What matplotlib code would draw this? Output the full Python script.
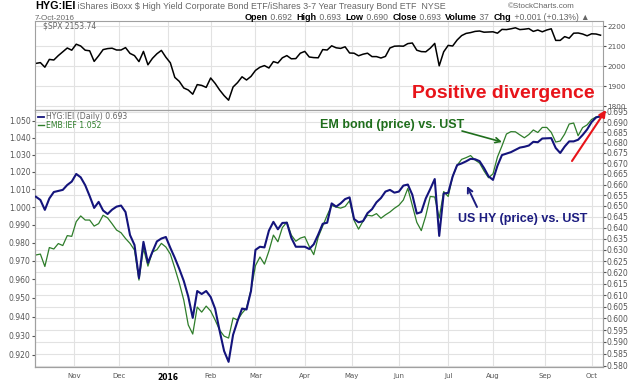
import numpy as np
import pandas as pd
import matplotlib
matplotlib.use("Agg")
import matplotlib.pyplot as plt
from matplotlib.lines import Line2D
from matplotlib.ticker import FixedLocator, FormatStrFormatter, NullLocator, NullFormatter
from matplotlib.transforms import blended_transform_factory

# trading days of the chart (NYSE holidays removed), one value every 2nd session
holidays = ["2015-11-26", "2015-12-25", "2016-01-01", "2016-01-18", "2016-02-15",
            "2016-03-25", "2016-05-30", "2016-07-04", "2016-09-05"]
days = pd.bdate_range("2015-10-08", "2016-10-07")
days = days[~days.isin(pd.to_datetime(holidays))]

# HYG:IEI (right scale)
hyg_iei = [
    0.6543, 0.6528, 0.6482, 0.6535, 0.6565, 0.6570, 0.6575, 0.6598, 0.6614, 0.6650,
    0.6634, 0.6597, 0.6546, 0.6491, 0.6519, 0.6479, 0.6463, 0.6483, 0.6497, 0.6502,
    0.6472, 0.6367, 0.6322, 0.6175, 0.6336, 0.6242, 0.6291, 0.6338, 0.6351, 0.6358,
    0.6309, 0.6264, 0.6215, 0.6162, 0.6094, 0.6002, 0.6118, 0.6105, 0.6118, 0.6092,
    0.6041, 0.5947, 0.5862, 0.5817, 0.5930, 0.5989, 0.6042, 0.6038, 0.6118, 0.6300,
    0.6314, 0.6311, 0.6387, 0.6427, 0.6393, 0.6422, 0.6423, 0.6354, 0.6314, 0.6314,
    0.6314, 0.6304, 0.6325, 0.6369, 0.6418, 0.6423, 0.6512, 0.6497, 0.6512, 0.6532,
    0.6540, 0.6440, 0.6425, 0.6430, 0.6467, 0.6485, 0.6517, 0.6537, 0.6567, 0.6575,
    0.6562, 0.6567, 0.6595, 0.6600, 0.6552, 0.6465, 0.6472, 0.6535, 0.6579, 0.6626,
    0.6363, 0.6558, 0.6561, 0.6638, 0.6692, 0.6700, 0.6710, 0.6722, 0.6720, 0.6711,
    0.6678, 0.6639, 0.6622, 0.6689, 0.6740, 0.6747, 0.6754, 0.6765, 0.6776, 0.6780,
    0.6786, 0.6804, 0.6802, 0.6820, 0.6821, 0.6822, 0.6774, 0.6750, 0.6781, 0.6806,
    0.6806, 0.6814, 0.6837, 0.6864, 0.6900, 0.6923, 0.6930]

# EMB:IEF (left scale)
emb_ief = [
    0.9733, 0.9738, 0.9670, 0.9774, 0.9766, 0.9796, 0.9785, 0.9840, 0.9836, 0.9918,
    0.9950, 0.9927, 0.9927, 0.9893, 0.9907, 0.9954, 0.9939, 0.9906, 0.9871, 0.9856,
    0.9824, 0.9797, 0.9760, 0.9596, 0.9770, 0.9672, 0.9749, 0.9762, 0.9797, 0.9777,
    0.9738, 0.9661, 0.9580, 0.9488, 0.9356, 0.9308, 0.9451, 0.9424, 0.9456, 0.9430,
    0.9382, 0.9329, 0.9297, 0.9287, 0.9393, 0.9382, 0.9418, 0.9446, 0.9542, 0.9675,
    0.9722, 0.9683, 0.9755, 0.9843, 0.9806, 0.9885, 0.9915, 0.9843, 0.9809, 0.9826,
    0.9834, 0.9780, 0.9735, 0.9832, 0.9893, 0.9954, 1.0009, 1.0000, 0.9994, 1.0003,
    1.0036, 0.9925, 0.9876, 0.9921, 0.9954, 0.9950, 0.9963, 0.9937, 0.9956, 0.9972,
    0.9993, 1.0010, 1.0040, 1.0106, 1.0009, 0.9914, 0.9868, 0.9950, 1.0060, 1.0057,
    0.9938, 1.0088, 1.0060, 1.0175, 1.0239, 1.0273, 1.0283, 1.0295, 1.0269, 1.0252,
    1.0206, 1.0167, 1.0189, 1.0287, 1.0351, 1.0421, 1.0435, 1.0434, 1.0416, 1.0399,
    1.0418, 1.0445, 1.0430, 1.0460, 1.0460, 1.0431, 1.0374, 1.0380, 1.0421, 1.0480,
    1.0486, 1.0411, 1.0459, 1.0475, 1.0507, 1.0522, 1.0520]

# $SPX close (top panel)
spx = [
    2013, 2017, 1994, 2033, 2030, 2052, 2071, 2090, 2079, 2109,
    2100, 2079, 2076, 2023, 2051, 2082, 2087, 2089, 2080, 2080,
    2092, 2063, 2052, 2022, 2073, 2006, 2038, 2061, 2078, 2044,
    2016, 1943, 1923, 1890, 1880, 1859, 1907, 1903, 1893, 1940,
    1913, 1880, 1852, 1829, 1895, 1917, 1946, 1930, 1948, 1978,
    1994, 2002, 1990, 2022, 2015, 2041, 2052, 2036, 2037, 2064,
    2073, 2045, 2042, 2041, 2082, 2080, 2101, 2091, 2088, 2096,
    2065, 2064, 2051, 2059, 2064, 2047, 2047, 2040, 2048, 2090,
    2099, 2100, 2099, 2112, 2115, 2079, 2072, 2071, 2089, 2113,
    2001, 2071, 2103, 2100, 2130, 2152, 2163, 2167, 2173, 2175,
    2169, 2170, 2171, 2164, 2183, 2182, 2186, 2191, 2182, 2184,
    2187, 2173, 2180, 2171, 2180, 2186, 2128, 2128, 2147, 2139,
    2164, 2165, 2160, 2151, 2161, 2160, 2154]

left_ticks = [1.050, 1.040, 1.030, 1.020, 1.010, 1.000, 0.990, 0.980, 0.970,
              0.960, 0.950, 0.940, 0.930, 0.920]
right_ticks = [0.695, 0.690, 0.685, 0.680, 0.675, 0.670, 0.665, 0.660, 0.655, 0.650,
               0.645, 0.640, 0.635, 0.630, 0.625, 0.620, 0.615, 0.610, 0.605, 0.600,
               0.595, 0.590, 0.585, 0.580]
spx_ticks = [1800, 1900, 2000, 2100, 2200]

NAVY = "#14147c"
GREEN = "#2e7d2a"
RED = "#e8141a"
GRID = "#e2e2e2"
TXT = "#555555"
W, H = 640, 381


def box(l, t, r, b):
    return [l / W, 1 - b / H, (r - l) / W, (b - t) / H]


def fx(x):
    return x / W


def fy(y):
    return 1 - y / H


pos = np.arange(len(days))
x = pos[::2]
first = pd.Series(pos, index=days).groupby(days.to_period("M")).min().iloc[1:]
month_pos = first.values
month_lbl = [str(p.year) if p.month == 1 else p.strftime("%b") for p in first.index]

fig = plt.figure(figsize=(6.4, 3.81), dpi=100)
ax_top = fig.add_axes(box(35, 21, 603, 110))
ax = fig.add_axes(box(35, 110, 603, 367))
ax_r = ax.twinx()

# ---- top panel: $SPX
ax_top.plot(x, spx, color="black", lw=1.1)
ax_top.set_xlim(-0.4, 253.1)
ax_top.set_ylim(1780, 2225)
ax_top.yaxis.tick_right()
ax_top.set_yticks(spx_ticks)
ax_top.set_xticks(month_pos)
ax_top.set_xticklabels([])
ax_top.tick_params(axis="x", length=0)
ax_top.tick_params(axis="y", length=2, pad=1, labelsize=5.2, colors=TXT)
ax_top.grid(True, color=GRID, lw=0.8)
ax_top.set_axisbelow(True)

# ---- lower panel: EMB:IEF on the left scale, HYG:IEI on the right scale
ax.plot(x, emb_ief, color=GREEN, lw=0.9, zorder=3)
ax_r.plot(x, hyg_iei, color=NAVY, lw=1.5, zorder=3)

for a, lim, ticks in ((ax, (0.91364, 1.05634), left_ticks),
                      (ax_r, (0.57957, 0.69599), right_ticks)):
    a.set_yscale("log")
    a.set_ylim(*lim)
    a.yaxis.set_major_locator(FixedLocator(ticks))
    a.yaxis.set_major_formatter(FormatStrFormatter("%.3f"))
    a.yaxis.set_minor_locator(NullLocator())
    a.yaxis.set_minor_formatter(NullFormatter())
    a.set_xlim(-0.4, 253.1)

# horizontal grid at the right-scale ticks, drawn under the lines
trans = blended_transform_factory(ax.transAxes, ax_r.transData)
for v in right_ticks:
    ax.add_line(Line2D([0, 1], [v, v], transform=trans, color=GRID, lw=0.8, zorder=1))

ax.set_xticks(month_pos)
ax.set_xticklabels(month_lbl)
ax.grid(True, axis="x", color=GRID, lw=0.8, zorder=1)
ax.set_axisbelow(True)
ax.tick_params(axis="x", length=0, pad=4, labelsize=5, colors=TXT)
ax.tick_params(axis="y", length=2.5, pad=0.6, labelsize=5.5, colors=TXT)
ax_r.tick_params(axis="y", length=2, pad=0.6, labelsize=5.5, colors=TXT)
for lbl in ax.get_xticklabels():
    if lbl.get_text() == "2016":
        lbl.set_fontweight("bold")
        lbl.set_color("black")
        lbl.set_fontsize(5.5)

for a in (ax_top, ax, ax_r):
    for s in a.spines.values():
        s.set_color("#a0a0a0")
        s.set_linewidth(0.8)

# ---- header (two rows)
sans = ["Liberation Sans", "DejaVu Sans"]
t = fig.text(fx(35), fy(9), "HYG:IEI", fontsize=7.8, fontweight="bold", family=sans)
ax_top.annotate(" iShares iBoxx $ High Yield Corporate Bond ETF/iShares 3-7 Year Treasury Bond ETF  NYSE",
                xy=(1, 0), xycoords=t, va="bottom", fontsize=6.4, color="#666666",
                family=sans, annotation_clip=False)
fig.text(fx(508), fy(8), "\u00a9StockCharts.com", fontsize=5.8, color="#666666", family=sans)
fig.text(fx(35), fy(19.5), "7-Oct-2016", fontsize=5.8, color="#666666", family=sans)

pieces = [("Open", True), (" 0.692  ", False), ("High", True), (" 0.693  ", False),
          ("Low", True), (" 0.690  ", False), ("Close", True), (" 0.693  ", False),
          ("Volume", True), (" 37  ", False), ("Chg", True), (" +0.001 (+0.13%) ", False),
          ("\u25b2", False)]
prev = fig.text(fx(245), fy(19.5), pieces[0][0], fontsize=6.5, fontweight="bold",
                color="black", family=sans)
for s, bold in pieces[1:]:
    prev = ax_top.annotate(s, xy=(1, 0), xycoords=prev, va="bottom",
                           fontsize=6.5 if bold else 6.2,
                           fontweight="bold" if bold else "normal",
                           color="black" if bold else "#666666",
                           family=sans, annotation_clip=False)

# panel legends
fig.text(fx(43), fy(26.5), "$SPX 2153.74", fontsize=5.5, color="#666666", va="center")
fig.add_artist(Line2D([fx(38), fx(43.5)], [fy(116.7)] * 2, color=NAVY, lw=1.3))
fig.text(fx(46.5), fy(116.7), "HYG:IEI (Daily) 0.693", fontsize=5.6, color="#666666", va="center")
fig.add_artist(Line2D([fx(38), fx(43.5)], [fy(125)] * 2, color=GREEN, lw=1.0))
fig.text(fx(46.5), fy(125), "EMB:IEF 1.052", fontsize=5.6, color=GREEN, va="center")

# ---- annotations
fig.text(fx(503), fy(93.5), "Positive divergence", fontsize=14, fontweight="bold",
         color=RED, ha="center", va="center", family=sans)
fig.text(fx(320), fy(125.5), "EM bond (price) vs. UST", fontsize=9, fontweight="bold",
         color="#1f6e1c", va="center", family=sans)
fig.text(fx(458), fy(218.5), "US HY (price) vs. UST", fontsize=9, fontweight="bold",
         color="#1c1c80", va="center", family=sans)

ax_r.annotate("", xy=(fx(502), fy(142)), xytext=(fx(462), fy(131)),
              xycoords="figure fraction", textcoords="figure fraction",
              arrowprops=dict(arrowstyle="->", color="#1f6e1c", lw=1.2,
                              mutation_scale=9, shrinkA=0, shrinkB=0),
              annotation_clip=False)
ax_r.annotate("", xy=(fx(467), fy(186)), xytext=(fx(477), fy(207)),
              xycoords="figure fraction", textcoords="figure fraction",
              arrowprops=dict(arrowstyle="->", color="#1c1c80", lw=1.4,
                              mutation_scale=9, shrinkA=0, shrinkB=0),
              annotation_clip=False)
ax_r.annotate("", xy=(fx(606), fy(110)), xytext=(fx(572), fy(161)),
              xycoords="figure fraction", textcoords="figure fraction",
              arrowprops=dict(arrowstyle="-|>", color=RED, lw=1.5,
                              mutation_scale=10, shrinkA=0, shrinkB=0),
              annotation_clip=False)

fig.savefig("out.png", dpi=100)
